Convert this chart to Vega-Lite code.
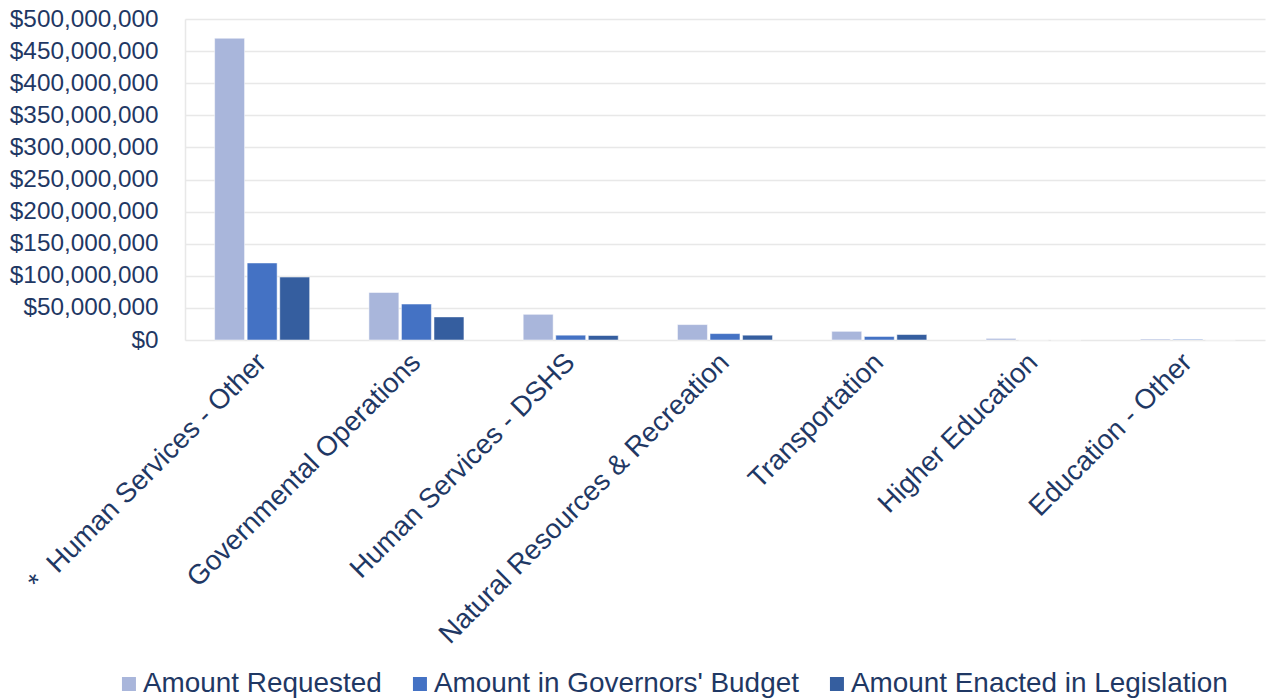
{
  "$schema": "https://vega.github.io/schema/vega-lite/v6.json",
  "width": 1080,
  "height": 321,
  "autosize": {"type": "none"},
  "padding": {"left": 185, "top": 19, "right": 4, "bottom": 360},
  "background": "white",
  "config": {
    "font": "Liberation Sans",
    "view": {"stroke": null},
    "axis": {"labelColor": "#1F3864", "labelFont": "Liberation Sans"},
    "legend": {"labelColor": "#1F3864", "labelFont": "Liberation Sans"}
  },
  "data": {
    "values": [
      {"category": "*\u00a0\u00a0Human Services - Other", "series": "Amount Requested", "amount": 470000000},
      {"category": "*\u00a0\u00a0Human Services - Other", "series": "Amount in Governors' Budget", "amount": 120000000},
      {"category": "*\u00a0\u00a0Human Services - Other", "series": "Amount Enacted in Legislation", "amount": 98000000},
      {"category": "Governmental Operations", "series": "Amount Requested", "amount": 74000000},
      {"category": "Governmental Operations", "series": "Amount in Governors' Budget", "amount": 56000000},
      {"category": "Governmental Operations", "series": "Amount Enacted in Legislation", "amount": 36000000},
      {"category": "Human Services - DSHS", "series": "Amount Requested", "amount": 40000000},
      {"category": "Human Services - DSHS", "series": "Amount in Governors' Budget", "amount": 7500000},
      {"category": "Human Services - DSHS", "series": "Amount Enacted in Legislation", "amount": 7000000},
      {"category": "Natural Resources & Recreation", "series": "Amount Requested", "amount": 24000000},
      {"category": "Natural Resources & Recreation", "series": "Amount in Governors' Budget", "amount": 10000000},
      {"category": "Natural Resources & Recreation", "series": "Amount Enacted in Legislation", "amount": 7500000},
      {"category": "Transportation", "series": "Amount Requested", "amount": 13500000},
      {"category": "Transportation", "series": "Amount in Governors' Budget", "amount": 5500000},
      {"category": "Transportation", "series": "Amount Enacted in Legislation", "amount": 8500000},
      {"category": "Higher Education", "series": "Amount Requested", "amount": 2500000},
      {"category": "Higher Education", "series": "Amount in Governors' Budget", "amount": 0},
      {"category": "Higher Education", "series": "Amount Enacted in Legislation", "amount": 0},
      {"category": "Education - Other", "series": "Amount Requested", "amount": 1500000},
      {"category": "Education - Other", "series": "Amount in Governors' Budget", "amount": 1000000},
      {"category": "Education - Other", "series": "Amount Enacted in Legislation", "amount": 0}
    ]
  },
  "mark": {"type": "bar", "stroke": "white", "strokeWidth": 0.5},
  "encoding": {
    "x": {
      "field": "category",
      "type": "nominal",
      "sort": null,
      "scale": {"paddingInner": 0.384, "paddingOuter": 0.192},
      "axis": {
        "title": null,
        "labelAngle": -45,
        "labelAlign": "right",
        "labelBaseline": "middle",
        "labelFontSize": 27.7,
        "labelPadding": 18,
        "labelLimit": 1000,
        "ticks": false,
        "domain": false
      }
    },
    "xOffset": {
      "field": "series",
      "type": "nominal",
      "sort": ["Amount Requested", "Amount in Governors' Budget", "Amount Enacted in Legislation"],
      "scale": {"paddingInner": 0.08, "paddingOuter": 0}
    },
    "y": {
      "field": "amount",
      "type": "quantitative",
      "scale": {"domain": [0, 500000000], "nice": false},
      "axis": {
        "title": null,
        "values": [0, 50000000, 100000000, 150000000, 200000000, 250000000, 300000000, 350000000, 400000000, 450000000, 500000000],
        "format": "$,.0f",
        "labelFontSize": 24.3,
        "labelPadding": 27,
        "ticks": false,
        "domain": true,
        "domainColor": "#E8E8E8",
        "domainWidth": 1.5,
        "gridColor": "#E8E8E8",
        "gridWidth": 1.5
      }
    },
    "color": {
      "field": "series",
      "type": "nominal",
      "sort": ["Amount Requested", "Amount in Governors' Budget", "Amount Enacted in Legislation"],
      "scale": {
        "domain": ["Amount Requested", "Amount in Governors' Budget", "Amount Enacted in Legislation"],
        "range": ["#A9B6DB", "#4472C4", "#355E9F"]
      },
      "legend": {
        "title": null,
        "orient": "none",
        "direction": "horizontal",
        "legendX": -70,
        "legendY": 651,
        "padding": 0,
        "symbolType": "square",
        "symbolSize": 196,
        "symbolStrokeWidth": 0,
        "labelFontSize": 27.9,
        "labelOffset": 0,
        "columnPadding": 24,
        "labelLimit": 1000
      }
    }
  }
}
